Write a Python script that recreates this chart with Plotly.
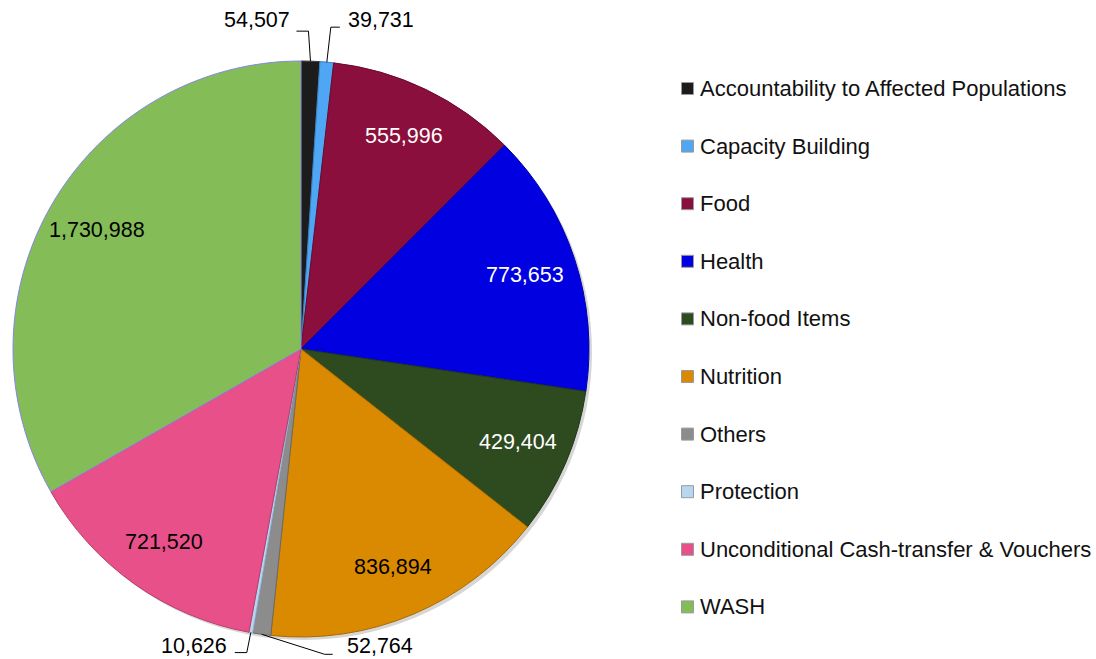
import math
import plotly.graph_objects as go

# ---------------- data ----------------
categories = [
    "Accountability to Affected Populations",
    "Capacity Building",
    "Food",
    "Health",
    "Non-food Items",
    "Nutrition",
    "Others",
    "Protection",
    "Unconditional Cash-transfer & Vouchers",
    "WASH",
]
values = [54507, 39731, 555996, 773653, 429404, 836894, 52764, 10626, 721520, 1730988]
label_inside = [False, False, True, True, True, True, False, False, True, True]

# ---------------- style ----------------
W, H = 1096, 659
colors = ["#1c1c1c", "#4ea6f5", "#8b0f3c", "#0000e0", "#2e4a1f",
          "#d98a00", "#8c8c8c", "#b7d7f0", "#e8508a", "#84bc58"]
borders = ["#3a3a3a", "#3a80c4", "#6a0a2d", "#0000a8", "#223818",
           "#a86b00", "#6b6b6b", "#8fb4d6", "#b83d6b", "#8585e6"]
text_colors = ["black", "black", "white", "white", "white",
               "black", "black", "black", "black", "black"]
FONT = "Liberation Sans, Arial, sans-serif"
FS = 21.5
LEG_FS = 22

# pie geometry in pixels
cx, cy, r = 301, 349, 288
inside_frac = 0.82


def px(x):
    return x / W


def py(y):
    return 1 - y / H


dom_x = [px(cx - r), px(cx + r)]
dom_y = [py(cy + r), py(cy - r)]

fig = go.Figure()

# soft shadow
sh = 3
fig.add_trace(go.Pie(
    values=[1], labels=["shadow"], sort=False,
    domain=dict(x=[px(cx - r + sh), px(cx + r + sh)], y=[py(cy + r + sh), py(cy - r + sh)]),
    marker=dict(colors=["rgba(0,0,0,0.16)"], line=dict(width=0)),
    textinfo="none", hoverinfo="skip", showlegend=False,
))

fig.add_trace(go.Pie(
    labels=categories, values=values, sort=False, direction="clockwise", rotation=0,
    domain=dict(x=dom_x, y=dom_y),
    marker=dict(colors=colors, line=dict(color=borders, width=1)),
    textinfo="none",
    hovertemplate="%{label}: %{value:,}<extra></extra>",
    showlegend=False,
))

# ---------------- data labels ----------------
total = sum(values)
mid = []
acc = 0
for v in values:
    mid.append(acc + v / 2)
    acc += v

shapes = []
annotations = []

# inside labels along each slice's mid angle
for i, v in enumerate(values):
    if not label_inside[i]:
        continue
    th = mid[i] / total * 2 * math.pi
    xt = cx + inside_frac * r * math.sin(th)
    yt = cy - inside_frac * r * math.cos(th)
    annotations.append(dict(
        x=px(xt), y=py(yt), xref="paper", yref="paper",
        text=f"{v:,}", showarrow=False, xanchor="center", yanchor="middle",
        font=dict(family=FONT, size=FS, color=text_colors[i]),
    ))

# small slices: outside labels with elbow leader lines
# (first leg dx,dy ; second leg dx ; text side ; text offset x,y)
leader = {
    0: ((-2, -30), -12, "right", -4, -11),
    1: ((4, -35), 9, "left", 6, -7),
    6: ((63, 20), 8, "left", 12, -8),
    7: ((-4, 20), -12, "right", -6, -7),
}
for i, (leg1, leg2, side, tox, toy) in leader.items():
    th = mid[i] / total * 2 * math.pi
    x0 = cx + r * math.sin(th)
    y0 = cy - r * math.cos(th)
    x1, y1 = x0 + leg1[0], y0 + leg1[1]
    x2, y2 = x1 + leg2, y1
    path = f"M {px(x0)},{py(y0)} L {px(x1)},{py(y1)} L {px(x2)},{py(y2)}"
    shapes.append(dict(type="path", path=path, xref="paper", yref="paper",
                       line=dict(color="black", width=1)))
    annotations.append(dict(
        x=px(x2 + tox), y=py(y2 + toy), xref="paper", yref="paper",
        text=f"{values[i]:,}", showarrow=False,
        xanchor="right" if side == "right" else "left", yanchor="middle",
        font=dict(family=FONT, size=FS, color="black"),
    ))

# ---------------- legend ----------------
leg_x_sq = 687.5
leg_x_txt = 698
leg_y0 = 88.5
leg_dy = 57.6
sq = 12
for k, name in enumerate(categories):
    yc = leg_y0 + k * leg_dy
    shapes.append(dict(
        type="rect", xref="paper", yref="paper",
        x0=px(leg_x_sq - sq / 2), x1=px(leg_x_sq + sq / 2),
        y0=py(yc + sq / 2), y1=py(yc - sq / 2),
        fillcolor=colors[k], line=dict(color="#9a9a9a", width=1),
    ))
    annotations.append(dict(
        x=px(leg_x_txt), y=py(yc), xref="paper", yref="paper",
        text=name, showarrow=False, xanchor="left", yanchor="middle",
        font=dict(family=FONT, size=LEG_FS, color="#111111"),
    ))

fig.update_layout(
    width=W, height=H,
    margin=dict(l=0, r=0, t=0, b=0),
    paper_bgcolor="white", plot_bgcolor="white",
    shapes=shapes, annotations=annotations,
    showlegend=False,
    font=dict(family=FONT),
)

fig.write_html("out.html")
